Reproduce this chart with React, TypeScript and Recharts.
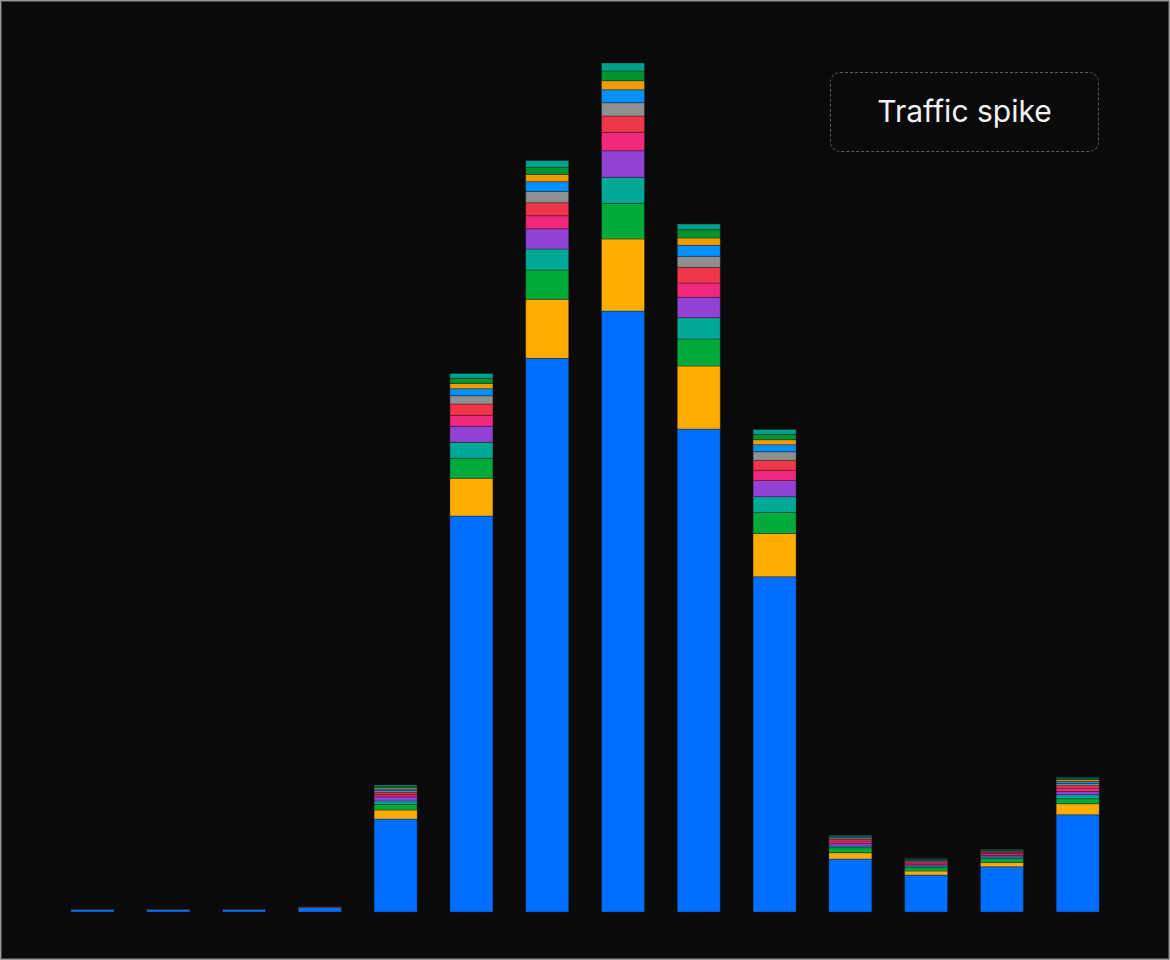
import { BarChart, Bar, XAxis, YAxis } from 'recharts'

// hourly buckets, stacked by service
const hours = [
  '00:00', '02:00', '04:00', '06:00', '08:00', '10:00', '12:00',
  '14:00', '16:00', '18:00', '20:00', '22:00', '24:00', '26:00',
]

const api = [2.5, 2.5, 2.5, 4.5, 93, 396, 553.7, 601, 483, 335.3, 53, 37, 45.3, 97.3]
const web = [0.3, 0.3, 0.3, 0.6, 9, 37.7, 59, 72, 63, 43.3, 6.3, 4, 4.3, 11]
const auth = [0, 0, 0, 0.3, 5.7, 20, 29.3, 35.7, 27, 21, 5, 3.3, 3.7, 5]
const search = [0, 0, 0, 0.2, 3.3, 16, 21, 26, 21.3, 15.7, 1.7, 1.7, 1.7, 4]
const media = [0, 0, 0, 0.2, 4.3, 16, 20.3, 26.6, 20.4, 16.3, 2.7, 1.3, 1.7, 3.3]
const billing = [0, 0, 0, 0.1, 2.3, 11, 13, 18.4, 14.3, 10, 2.3, 1.7, 1.7, 3.3]
const notify = [0, 0, 0, 0.1, 2, 11.3, 13, 16.3, 15.7, 10, 1.7, 1.3, 1.3, 2.7]
const admin = [0, 0, 0, 0, 1.7, 8.3, 11.3, 13.3, 11, 8.7, 1.3, 1, 1, 2]
const cdn = [0, 0, 0, 0, 1.7, 7, 9.7, 13, 11, 7, 1, 0.7, 0.7, 2]
const feeds = [0, 0, 0, 0, 1.3, 5.3, 7.3, 9, 7.3, 5, 0.7, 0.5, 0.5, 1.7]
const export_ = [0, 0, 0, 0, 1.3, 5, 7, 9.7, 8.3, 5.3, 0.7, 0.5, 0.5, 1.3]
const other = [0, 0, 0, 0, 1.3, 5, 7, 8, 5.7, 5, 0.7, 0.5, 0.5, 1]

const series = [
  { key: 'api', values: api, color: '#006eff' },
  { key: 'web', values: web, color: '#ffae00' },
  { key: 'auth', values: auth, color: '#00aa3b' },
  { key: 'search', values: search, color: '#00a896' },
  { key: 'media', values: media, color: '#9142d4' },
  { key: 'billing', values: billing, color: '#f0297d' },
  { key: 'notify', values: notify, color: '#f0364a' },
  { key: 'admin', values: admin, color: '#8f8f8f' },
  { key: 'cdn', values: cdn, color: '#0091ff' },
  { key: 'feeds', values: feeds, color: '#f09c00' },
  { key: 'export', values: export_, color: '#00932f' },
  { key: 'other', values: other, color: '#00a08a' },
]

const data = hours.map((hour, i) => {
  const row: Record<string, number | string> = { hour }
  series.forEach((s) => {
    row[s.key] = s.values[i]
  })
  return row
})

export default function App() {
  return (
    <div
      style={{
        position: 'absolute',
        left: 0,
        top: 0,
        width: 1170,
        height: 960,
        boxSizing: 'border-box',
        background: '#0a0a0a',
        border: '1px solid #9a9a9a',
        boxShadow: 'inset 0 0 0 1px #4a4a4a',
        fontFamily: 'Inter, sans-serif',
      }}
    >
      <div style={{ position: 'absolute', left: 0, top: -1 }}>
        <BarChart
          width={1170}
          height={960}
          data={data}
          margin={{ top: 12, right: 55, bottom: 48, left: 54 }}
          barSize={43}
        >
          <XAxis dataKey="hour" hide />
          <YAxis domain={[0, 900]} hide />
          {series.map((s) => (
            <Bar
              key={s.key}
              dataKey={s.key}
              stackId="traffic"
              fill={s.color}
              stroke="rgba(20,20,20,0.35)"
              strokeWidth={1}
              isAnimationActive={false}
            />
          ))}
        </BarChart>
      </div>
      <div
        style={{
          position: 'absolute',
          left: 829,
          top: 71,
          width: 269,
          height: 80,
          boxSizing: 'border-box',
          border: '1.5px dashed #5a5a5a',
          borderRadius: 10,
          display: 'flex',
          alignItems: 'center',
          justifyContent: 'center',
          color: '#f2f2f2',
          fontSize: 30,
          paddingBottom: 2,
        }}
      >
        Traffic spike
      </div>
    </div>
  )
}
